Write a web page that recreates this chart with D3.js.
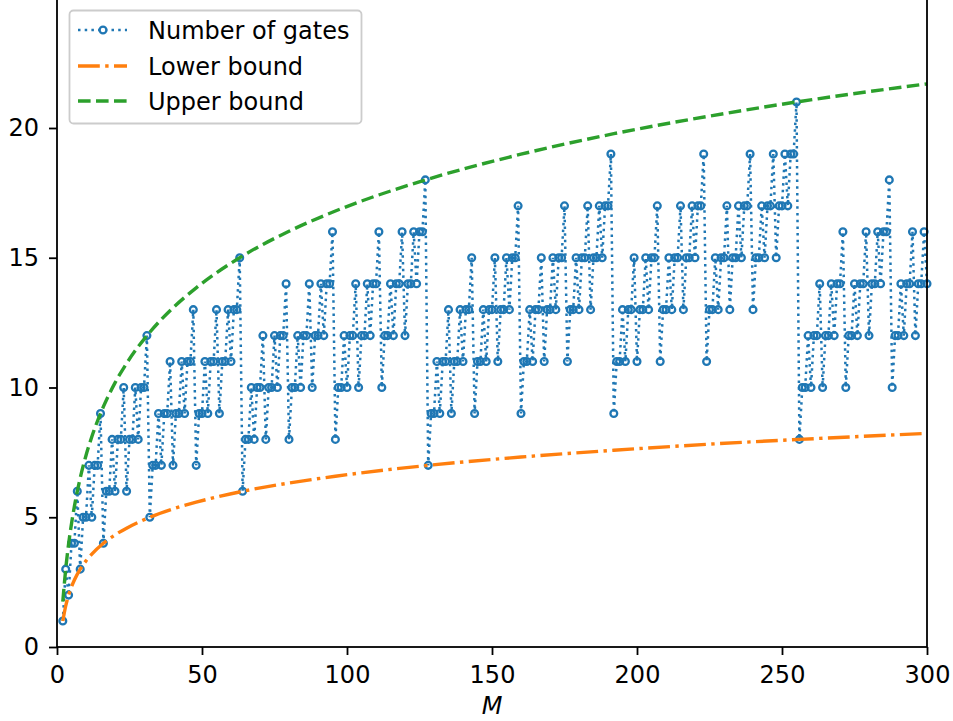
<!DOCTYPE html>
<html>
<head>
<meta charset="utf-8">
<script src="https://cdn.jsdelivr.net/npm/d3@7"></script>
<style>
  body { margin: 0; background: #fff; }
  text { font-family: "DejaVu Sans", sans-serif; }
</style>
</head>
<body>
<div id="chart"></div>
<script>
// number of gates for M = 2 .. 300
var gateCounts = [
  1, 3,
  2, 4, 4, 6,
  3, 5, 5, 7, 5, 7, 7, 9,
  4, 6, 6, 8, 6, 8, 8, 10, 6, 8, 8, 10, 8, 10, 10, 12,
  5, 7, 7, 9, 7, 9, 9, 11, 7, 9, 9, 11, 9, 11, 11, 13,
  7, 9, 9, 11, 9, 11, 11, 13, 9, 11, 11, 13, 11, 13, 13, 15,
  6, 8, 8, 10, 8, 10, 10, 12, 8, 10, 10, 12, 10, 12, 12, 14,
  8, 10, 10, 12, 10, 12, 12, 14, 10, 12, 12, 14, 12, 14, 14, 16,
  8, 10, 10, 12, 10, 12, 12, 14, 10, 12, 12, 14, 12, 14, 14, 16,
  10, 12, 12, 14, 12, 14, 14, 16, 12, 14, 14, 16, 14, 16, 16, 18,
  7, 9, 9, 11, 9, 11, 11, 13, 9, 11, 11, 13, 11, 13, 13, 15,
  9, 11, 11, 13, 11, 13, 13, 15, 11, 13, 13, 15, 13, 15, 15, 17,
  9, 11, 11, 13, 11, 13, 13, 15, 11, 13, 13, 15, 13, 15, 15, 17,
  11, 13, 13, 15, 13, 15, 15, 17, 13, 15, 15, 17, 15, 17, 17, 19,
  9, 11, 11, 13, 11, 13, 13, 15, 11, 13, 13, 15, 13, 15, 15, 17,
  11, 13, 13, 15, 13, 15, 15, 17, 13, 15, 15, 17, 15, 17, 17, 19,
  11, 13, 13, 15, 13, 15, 15, 17, 13, 15, 15, 17, 15, 17, 17, 19,
  13, 15, 15, 17, 15, 17, 17, 19, 15, 17, 17, 19, 17, 19, 19, 21,
  8, 10, 10, 12, 10, 12, 12, 14, 10, 12, 12, 14, 12, 14, 14, 16,
  10, 12, 12, 14, 12, 14, 14, 16, 12, 14, 14, 16, 14, 16, 16, 18,
  10, 12, 12, 14, 12, 14, 14, 16, 12, 14, 14, 16, 14
];
var gateM = d3.range(2, 2 + gateCounts.length);

// bound curves, read at a few M values
var boundM = [2, 3, 4, 5, 6, 8, 10, 12, 16, 20, 24, 32, 40, 48, 64, 80, 96, 128, 160, 192, 224, 256, 300];
var lowerBound = [1, 1.58, 2, 2.32, 2.58, 3, 3.32, 3.58, 4, 4.32, 4.58, 5, 5.32, 5.58, 6, 6.32, 6.58, 7, 7.32, 7.58, 7.81, 8, 8.23];
var upperBound = [1.75, 3, 3.97, 4.75, 5.42, 6.51, 7.38, 8.10, 9.26, 10.18, 10.93, 12.13, 13.07, 13.84, 15.07, 16.02, 16.80, 18.03, 18.99, 19.78, 20.44, 21.02, 21.70];

var xTicks = [0, 50, 100, 150, 200, 250, 300];
var yTicks = [0, 5, 10, 15, 20];
var legendLabels = ["Number of gates", "Lower bound", "Upper bound"];

var width = 953, height = 721;
var left = 57, right = 927, bottom = 647;

var svg = d3.select("#chart").append("svg")
  .attr("width", width)
  .attr("height", height);

var x = d3.scaleLinear().domain([0, 300]).range([left, right]);
var y = d3.scaleLinear().domain([0, 20]).range([bottom, 128]);

var fs = 24;
var lw = 3.4;

// data
var gateLine = d3.line()
  .x(function (d, i) { return x(gateM[i]); })
  .y(function (d) { return y(d); });

svg.append("path")
  .datum(gateCounts)
  .attr("d", gateLine)
  .attr("fill", "none")
  .attr("stroke", "#1f77b4")
  .attr("stroke-width", 2.5)
  .attr("stroke-dasharray", "2.5,4.2");

svg.append("g").selectAll("circle")
  .data(gateCounts)
  .enter()
  .append("circle")
  .attr("cx", function (d, i) { return x(gateM[i]); })
  .attr("cy", function (d) { return y(d); })
  .attr("r", 3.4)
  .attr("fill", "none")
  .attr("stroke", "#1f77b4")
  .attr("stroke-width", 2.3);

var boundLine = d3.line()
  .curve(d3.curveMonotoneX)
  .x(function (d, i) { return x(boundM[i]); })
  .y(function (d) { return y(d); });

svg.append("path")
  .datum(lowerBound)
  .attr("d", boundLine)
  .attr("fill", "none")
  .attr("stroke", "#ff7f0e")
  .attr("stroke-width", lw)
  .attr("stroke-dasharray", "21.8,5.4,3.4,5.4");

svg.append("path")
  .datum(upperBound)
  .attr("d", boundLine)
  .attr("fill", "none")
  .attr("stroke", "#2ca02c")
  .attr("stroke-width", lw)
  .attr("stroke-dasharray", "12.6,5.4");

// axes
var xAxis = svg.append("g")
  .attr("transform", "translate(0," + bottom + ")")
  .call(d3.axisBottom(x).tickValues(xTicks).tickSize(8).tickPadding(11));
var yAxis = svg.append("g")
  .attr("transform", "translate(" + left + ",0)")
  .call(d3.axisLeft(y).tickValues(yTicks).tickSize(8).tickPadding(10));

[xAxis, yAxis].forEach(function (ax) {
  ax.select(".domain").remove();
  ax.selectAll("line").attr("stroke", "#000").attr("stroke-width", 1.8);
  ax.selectAll("text").attr("fill", "#000").style("font-size", fs + "px")
    .style("font-family", "DejaVu Sans");
});

// spines
svg.append("rect")
  .attr("x", left)
  .attr("y", -5)
  .attr("width", right - left)
  .attr("height", bottom + 5)
  .attr("fill", "none")
  .attr("stroke", "#000")
  .attr("stroke-width", 1.8);

svg.append("text")
  .attr("x", (left + right) / 2)
  .attr("y", 714)
  .attr("text-anchor", "middle")
  .style("font-size", fs + "px")
  .style("font-style", "italic")
  .text("M");

// legend
var legend = svg.append("g");
legend.append("rect")
  .attr("x", 69.5)
  .attr("y", 10.5)
  .attr("width", 292)
  .attr("height", 113)
  .attr("rx", 4)
  .attr("fill", "#fff")
  .attr("fill-opacity", 0.8)
  .attr("stroke", "#cccccc")
  .attr("stroke-width", 1.8);

var legendStyles = [
  { color: "#1f77b4", dash: "2.5,4.2", w: 2.5 },
  { color: "#ff7f0e", dash: "21.8,5.4,3.4,5.4", w: lw },
  { color: "#2ca02c", dash: "12.6,5.4", w: lw }
];
var rowY = [30, 66, 101];

legendLabels.forEach(function (label, i) {
  legend.append("line")
    .attr("x1", 78).attr("x2", 127)
    .attr("y1", rowY[i]).attr("y2", rowY[i])
    .attr("stroke", legendStyles[i].color)
    .attr("stroke-width", legendStyles[i].w)
    .attr("stroke-dasharray", legendStyles[i].dash);
  if (i === 0) {
    legend.append("circle")
      .attr("cx", 103).attr("cy", rowY[i]).attr("r", 3.4)
      .attr("fill", "#fff").attr("stroke", "#1f77b4").attr("stroke-width", 2.3);
  }
  legend.append("text")
    .attr("x", 148)
    .attr("y", rowY[i] + 8.5)
    .style("font-size", fs + "px")
    .text(label);
});
</script>
</body>
</html>
